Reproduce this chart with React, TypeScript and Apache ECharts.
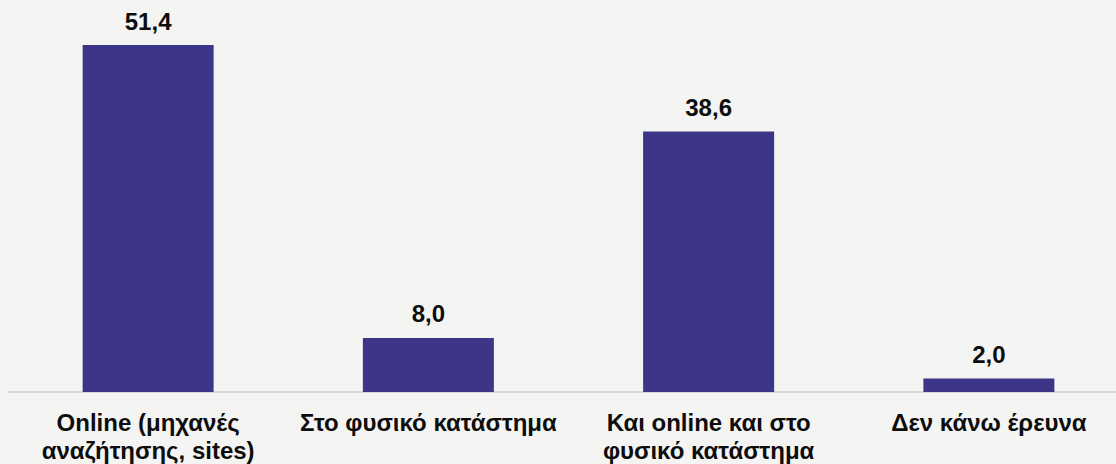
import React, { useEffect, useRef } from "react";
import * as echarts from "echarts";

const categories = [
  "Online (μηχανές\nαναζήτησης, sites)",
  "Στο φυσικό κατάστημα",
  "Και online και στο\nφυσικό κατάστημα",
  "Δεν κάνω έρευνα",
];
const values = [51.4, 8.0, 38.6, 2.0];

const FONT = "'Liberation Sans', Arial, sans-serif";

export default function App() {
  const ref = useRef<HTMLDivElement>(null);
  useEffect(() => {
    if (!ref.current) return;
    const chart = echarts.init(ref.current, undefined, { renderer: "svg" });
    chart.setOption({
      animation: false,
      backgroundColor: "#f4f4f2",
      grid: { left: 8, right: 0, top: 45, bottom: 71, containLabel: false },
      xAxis: {
        type: "category",
        data: categories,
        axisLine: { show: true, lineStyle: { color: "#d9d9d9", width: 2 } },
        axisTick: { show: false },
        axisLabel: {
          interval: 0,
          margin: 16,
          color: "#0d0d0d",
          fontFamily: FONT,
          fontWeight: "bold",
          fontSize: 24,
          lineHeight: 28,
        },
      },
      yAxis: {
        type: "value",
        min: 0,
        max: "dataMax",
        show: false,
        splitLine: { show: false },
      },
      series: [
        {
          type: "bar",
          data: values,
          barWidth: 131,
          itemStyle: { color: "#3d3587" },
          label: {
            show: true,
            position: "top",
            distance: 12,
            color: "#0d0d0d",
            fontFamily: FONT,
            fontWeight: "bold",
            fontSize: 24,
            formatter: (p: any) => p.value.toFixed(1).replace(".", ","),
          },
        },
      ],
    });
    return () => chart.dispose();
  }, []);
  return (
    <div
      style={{
        position: "fixed",
        left: 0,
        top: 0,
        width: 1116,
        height: 464,
        overflow: "hidden",
        background: "#f4f4f2",
      }}
    >
      <div ref={ref} style={{ width: 1129, height: 464 }} />
    </div>
  );
}
